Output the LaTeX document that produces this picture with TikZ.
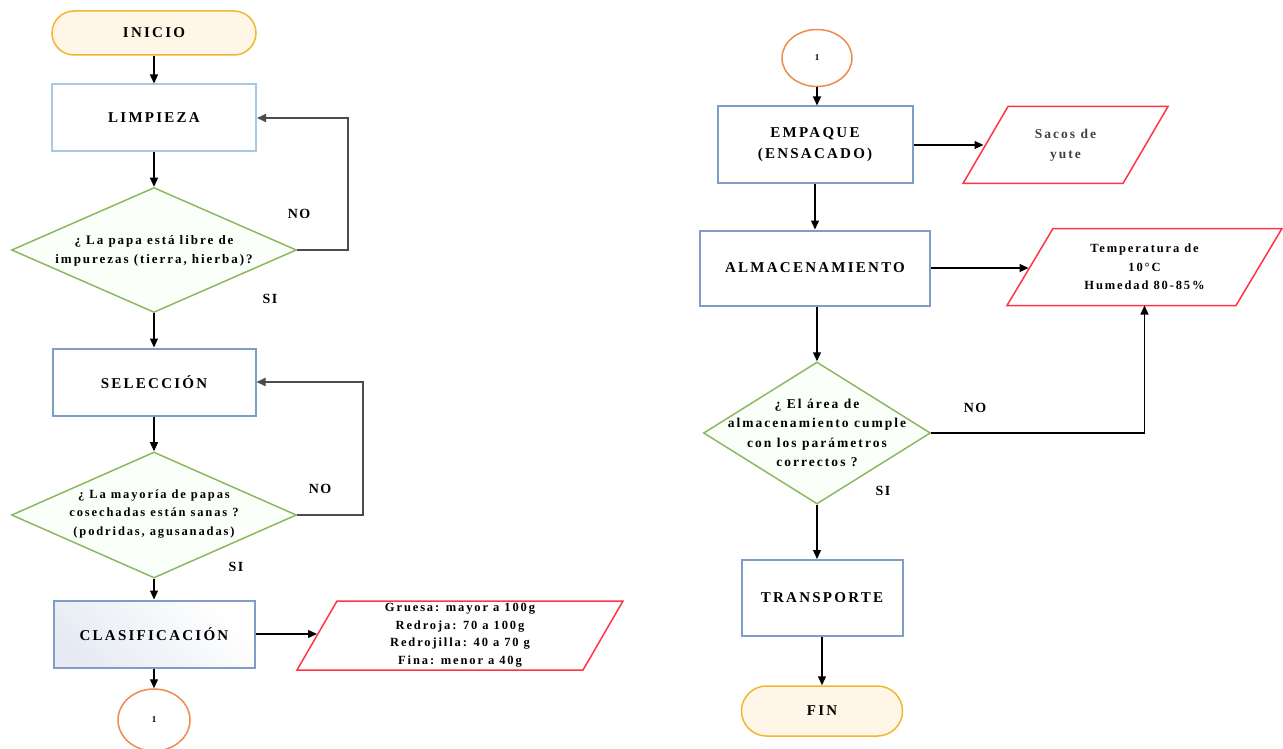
\documentclass[tikz,border=0pt]{standalone}
\usepackage{fontspec}
\setmainfont{Liberation Serif}
\usetikzlibrary{arrows.meta,shapes.geometric,calc}
\definecolor{termc}{HTML}{F2B630}
\definecolor{termfill}{HTML}{FFF6E8}
\definecolor{boxblue}{HTML}{7F9DC6}
\definecolor{lightblue}{HTML}{A9C8E8}
\definecolor{dgreen}{HTML}{8CB860}
\definecolor{pred}{HTML}{FF3444}
\definecolor{corange}{HTML}{ED8B50}
\definecolor{clsfill}{HTML}{E6EBF3}
\newcommand{\boxfont}{\bfseries\fontsize{15}{21}\selectfont\addfontfeatures{LetterSpace=15}}
\newcommand{\smallfont}{\bfseries\fontsize{12.5}{18.5}\selectfont\addfontfeatures{LetterSpace=15}}
\begin{document}
\begin{tikzpicture}[x=1pt,y=-1pt,
 termbox/.style={draw=termc, line width=1.5pt, fill=termfill, minimum width=204pt, minimum height=44pt, rounded corners=22pt, font=\boxfont},
 procbox/.style={draw=boxblue, line width=2pt, fill=white, align=center, font=\boxfont},
 decbox/.style={diamond, draw=dgreen, line width=1.5pt, fill=green!2, inner sep=0pt},
 dectext/.style={align=center, font=\smallfont},
 connbox/.style={ellipse, draw=corange, line width=1.5pt, fill=white, font=\bfseries\fontsize{9}{11}\selectfont},
 parabox/.style={draw=pred, line width=1.5pt, fill=white},
 ptext/.style={align=center, font=\smallfont},
 arr/.style={-{Triangle[length=9pt,width=8pt]}, line width=1.3pt, black},
 looparr/.style={-{Triangle[length=9pt,width=8pt]}, line width=2pt, draw=black!70},
 lbl/.style={font=\bfseries\fontsize{14}{16}\selectfont\addfontfeatures{LetterSpace=10}}
]
\useasboundingbox (0,0) rectangle (1283,749);

% ---------- left column ----------
\node[termbox] (inicio) at (154,33) {INICIO};
\node[procbox, draw=lightblue, minimum width=204pt, minimum height=67pt] (limp) at (154,118) {LIMPIEZA};
\node[decbox, minimum width=285pt, minimum height=125pt] (d1) at (154,250) {};
\node[dectext, font=\bfseries\fontsize{13}{18.5}\selectfont\addfontfeatures{LetterSpace=15}] (d1t) at (154,251) {¿ La papa está libre de\\impurezas (tierra, hierba)?};
\node[procbox, minimum width=203pt, minimum height=67pt] (sel) at (154,382) {SELECCIÓN};
\node[decbox, minimum width=285pt, minimum height=126pt] (d2) at (154,515) {};
\node[dectext] (d2t) at (154,514) {¿ La mayoría de papas\\cosechadas están sanas ?\\(podridas, agusanadas)};
\node[procbox, minimum width=201pt, minimum height=67pt, top color=clsfill, bottom color=white, shading angle=135] (clas) at (154,634) {CLASIFICACIÓN};
\node[connbox, minimum width=72pt, minimum height=62pt] (c1) at (154,720) {1};

\coordinate (clsp) at (460,635);
\draw[parabox] ($(clsp)+(-123,-34)$) -- ($(clsp)+(163,-34)$) -- ($(clsp)+(123,35)$) -- ($(clsp)+(-163,35)$) -- cycle;
\node[ptext, font=\bfseries\fontsize{12.5}{17.5}\selectfont\addfontfeatures{LetterSpace=15}] (clst) at (clsp) {Gruesa: mayor a 100g\\Redroja: 70 a 100g\\Redrojilla: 40 a 70 g\\Fina: menor a 40g};
\coordinate (clspin) at ($(clsp)+(-143,0)$);

\draw[arr] (inicio) -- (limp);
\draw[arr] (limp) -- (d1);
\draw[arr] (d1) -- (sel);
\draw[arr] (sel) -- (d2);
\draw[arr] (d2) -- (clas);
\draw[arr] (clas) -- (c1);
\draw[arr] (clas.east) -- (clas.east -| clspin);
\draw[looparr] (d1.east) -- ++(51,0) |- (limp.east);
\draw[looparr] (d2.east) -- ++(66,0) |- (sel.east);

\node[lbl] (no1) at (299,214) {NO};
\node[lbl] (si1) at (270,299) {SI};
\node[lbl] (no2) at (320,489) {NO};
\node[lbl] (si2) at (236,567) {SI};

% ---------- right column ----------
\node[connbox, minimum width=70pt, minimum height=57pt] (c2) at (817,58) {1};
\node[procbox, minimum width=195pt, minimum height=77pt] (emp) at (815,145) {EMPAQUE\\(ENSACADO)};
\node[procbox, minimum width=230pt, minimum height=75pt] (alm) at (815,268) {ALMACENAMIENTO};
\node[decbox, minimum width=227pt, minimum height=142pt] (d3) at (817,433) {};
\node[dectext, font=\bfseries\fontsize{13.5}{19.5}\selectfont\addfontfeatures{LetterSpace=15}] (d3t) at (817,433) {¿ El área de\\almacenamiento cumple\\con los parámetros\\correctos ?};
\node[procbox, minimum width=161pt, minimum height=76pt] (trans) at (822,598) {TRANSPORTE};
\node[termbox, minimum width=161pt, minimum height=50pt, rounded corners=25pt] (fin) at (822,711) {FIN};

\coordinate (sac) at (1065.5,145);
\draw[parabox] ($(sac)+(-57.5,-38.5)$) -- ($(sac)+(102.5,-38.5)$) -- ($(sac)+(57.5,38.5)$) -- ($(sac)+(-102.5,38.5)$) -- cycle;
\node[ptext, font=\bfseries\fontsize{13.5}{20}\selectfont\addfontfeatures{LetterSpace=15}, text=black!75] (sact) at (sac) {Sacos de\\yute};
\coordinate (sacin) at ($(sac)+(-82,0)$);

\coordinate (tmp) at (1144.5,267);
\draw[parabox] ($(tmp)+(-91.5,-38.5)$) -- ($(tmp)+(137.5,-38.5)$) -- ($(tmp)+(91.5,38.5)$) -- ($(tmp)+(-137.5,38.5)$) -- cycle;
\node[ptext] (tmpt) at (tmp) {Temperatura de\\10°C\\Humedad 80-85\%};
\coordinate (tmpin) at ($(tmp)+(-116,0)$);
\coordinate (tmpbot) at ($(tmp)+(0,38.5)$);

\draw[arr] (c2) -- (c2 |- emp.north);
\draw[arr] (emp) -- (emp |- alm.north);
\draw[arr] (alm.south -| d3) -- (d3.north);
\draw[arr] (d3.south) -- (d3.south |- trans.north);
\draw[arr] (trans) -- (fin);
\draw[arr] (emp.east) -- (emp.east -| sacin);
\draw[arr] (alm.east) -- (alm.east -| tmpin);
\draw[arr] (d3.east) -| (tmpbot);

\node[lbl] (no3) at (975,408) {NO};
\node[lbl] (si3) at (883,491) {SI};
\end{tikzpicture}
\end{document}
